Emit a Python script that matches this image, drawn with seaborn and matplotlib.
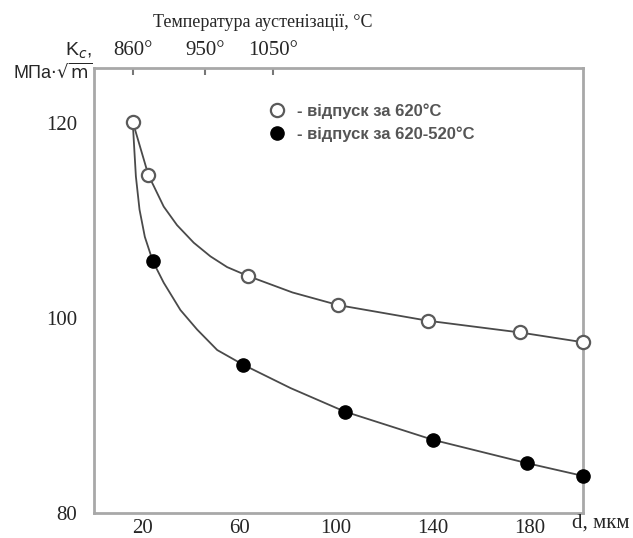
"""
Kc vs grain size d for two tempering modes
"""
import matplotlib
matplotlib.use("Agg")
import matplotlib.pyplot as plt
import seaborn as sns
from matplotlib.lines import Line2D

# points (markers)
open_x = [16, 22.5, 63.5, 101, 138, 176, 202]
open_y = [120.1, 114.6, 104.3, 101.3, 99.7, 98.5, 97.5]
filled_x = [24.3, 61.6, 103.5, 140, 179, 202]
filled_y = [105.8, 95.2, 90.4, 87.5, 85.1, 83.8]

# traced points of the smooth curves (markers + extra points)
open_curve_x = [16, 22.5, 24.7, 28.8, 34.3, 41.2, 48.1, 55.0, 63.5, 82, 101, 138, 176, 202]
open_curve_y = [120.1, 114.6, 113.5, 111.4, 109.5, 107.7, 106.3, 105.2, 104.3, 102.6, 101.3, 99.7, 98.5, 97.5]
filled_curve_x = [16, 16.5, 17.3, 18.8, 21.0, 24.3, 28.8, 35.7, 42.6, 50.9, 61.6, 81.2, 103.5, 140, 179, 202]
filled_curve_y = [120.1, 117.9, 114.5, 111.1, 108.3, 105.8, 103.6, 100.8, 98.8, 96.7, 95.2, 92.8, 90.4, 87.5, 85.1, 83.8]

x_ticks = [20, 60, 100, 140, 180]
y_ticks = [80, 100, 120]
top_ticks = [16, 46, 74]
top_labels = ["860°", "950°", "1050°"]
legend_labels = ["- відпуск за 620°C", "- відпуск за 620-520°C"]

sns.set_style("white")
plt.rcParams["font.family"] = ["Liberation Serif", "DejaVu Serif"]

fig = plt.figure(figsize=(6.33, 5.38), dpi=100)
ax = fig.add_axes([0.1485, 0.0465, 0.7725, 0.827])

line_col = "#4a4a4a"
sns.lineplot(x=open_curve_x, y=open_curve_y, ax=ax, color=line_col, lw=1.3, sort=False)
sns.lineplot(x=filled_curve_x, y=filled_curve_y, ax=ax, color=line_col, lw=1.3, sort=False)
ax.plot(open_x, open_y, "o", ms=9.5, mfc="white", mec="#5a5a5a", mew=1.6, zorder=5, clip_on=False)
ax.plot(filled_x, filled_y, "o", ms=9.5, mfc="black", mec="black", zorder=5, clip_on=False)

ax.set_xlim(0, 202)
ax.set_ylim(80, 125.6)
ax.set_xticks(x_ticks)
ax.set_yticks(y_ticks)
ax.set_xticklabels([str(t) for t in x_ticks], fontsize=15)
ax.set_yticklabels([str(t) for t in y_ticks], fontsize=15)
ax.tick_params(axis="both", direction="in", length=5, width=1.5, color="#555555", pad=4)
ax.tick_params(axis="y", pad=12)

for s in ax.spines.values():
    s.set_color("#a8a8a8")
    s.set_linewidth(2)

# top axis: austenitization temperature
top = ax.secondary_xaxis("top")
top.set_xticks(top_ticks)
top.set_xticklabels(top_labels, fontsize=15)
top.tick_params(direction="in", length=5, width=1.5, color="#777777", pad=6)
top.spines["top"].set_visible(False)
fig.text(0.415, 0.958, "Температура аустенізації, °C", fontsize=13, ha="center", va="center")

# axis labels
fig.text(0.145, 0.905, r"K$_c$,", fontsize=14, ha="right", va="center",
         family=["Liberation Sans", "DejaVu Sans"])
fig.text(0.146, 0.866, r"МПа$\cdot\sqrt{\mathrm{m}}$", fontsize=13, ha="right", va="center",
         family=["Liberation Sans", "DejaVu Sans"])
fig.text(0.995, 0.028, "d, мкм", fontsize=15, ha="right", va="center")

handles = [
    Line2D([], [], ls="none", marker="o", ms=9.5, mfc="white", mec="#5a5a5a", mew=1.6),
    Line2D([], [], ls="none", marker="o", ms=9.5, mfc="black", mec="black"),
]
leg = ax.legend(handles, legend_labels, loc="upper left", bbox_to_anchor=(0.31, 0.955),
                frameon=False, handletextpad=0.2, labelspacing=0.45,
                prop={"family": ["Liberation Sans", "DejaVu Sans"], "size": 12, "weight": "bold"})
for t in leg.get_texts():
    t.set_color("#555555")

fig.savefig("out.png", dpi=100)
plt.close(fig)
